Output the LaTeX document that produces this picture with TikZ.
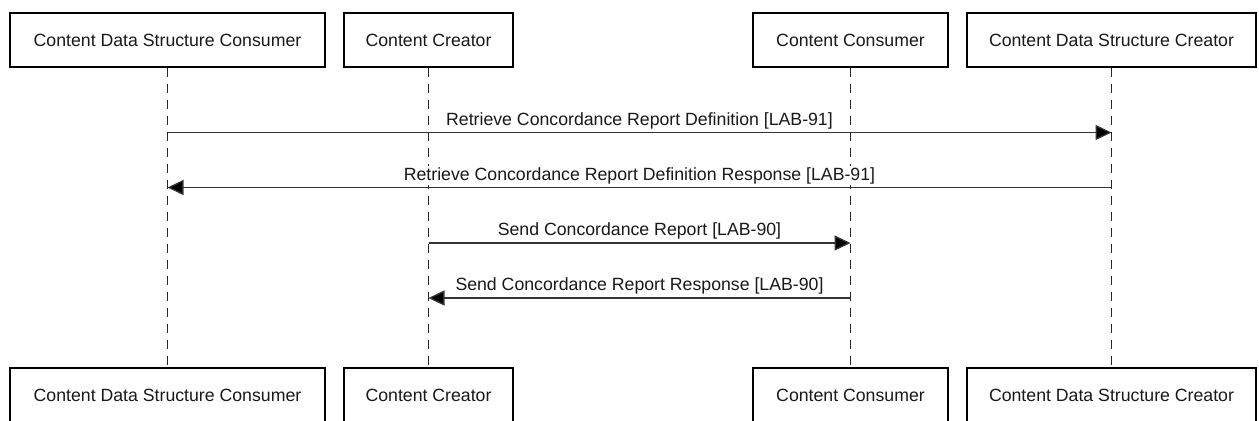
\documentclass[tikz,border=0pt]{standalone}
\usepackage{fontspec}
\setmainfont{Liberation Sans}
\usetikzlibrary{arrows.meta}
\begin{document}
\begin{tikzpicture}[x=0.5pt,y=-0.5pt,
  font=\fontsize{8.85pt}{10pt}\selectfont,
  actor/.style={draw=black, line width=1.4pt, fill=white, minimum height=27pt,
    inner sep=0pt, text=black!90},
  lifeline/.style={draw=black!85, line width=0.55pt, dash pattern=on 4.5pt off 3.5pt},
  msg/.style={draw=black!80, line width=0.65pt,
    -{Triangle[length=8pt,width=7.5pt,fill=black]}},
  lbl/.style={anchor=base, yshift=3.75pt, inner sep=0.5pt, fill=white, text=black!90}]
\useasboundingbox (0,0) rectangle (1259,420);

% participants, top row
\node[actor, minimum width=157.5pt] (a)  at (167.5,40)  {Content Data Structure Consumer};
\node[actor, minimum width=84.5pt]  (b)  at (428.5,40)  {Content Creator};
\node[actor, minimum width=97.5pt]  (c)  at (850.5,40)  {Content Consumer};
\node[actor, minimum width=144.5pt] (d)  at (1111.5,40) {Content Data Structure Creator};

% participants, bottom row
\node[actor, minimum width=157.5pt] (a2) at (167.5,395)  {Content Data Structure Consumer};
\node[actor, minimum width=84.5pt]  (b2) at (428.5,395)  {Content Creator};
\node[actor, minimum width=97.5pt]  (c2) at (850.5,395)  {Content Consumer};
\node[actor, minimum width=144.5pt] (d2) at (1111.5,395) {Content Data Structure Creator};

% lifelines
\draw[lifeline] (a.south) -- (a2.north);
\draw[lifeline] (b.south) -- (b2.north);
\draw[lifeline] (c.south) -- (c2.north);
\draw[lifeline] (d.south) -- (d2.north);

% message rows
\coordinate (r1) at (0,132.5);
\coordinate (r2) at (0,187.5);
\coordinate (r3) at (0,243);
\coordinate (r4) at (0,298);

\draw[msg] (a |- r1) -- node[lbl] {Retrieve Concordance Report Definition [LAB-91]} (d |- r1);
\draw[msg] (d |- r2) -- node[lbl] {Retrieve Concordance Report Definition Response [LAB-91]} (a |- r2);
\draw[msg] (b |- r3) -- node[lbl] {Send Concordance Report [LAB-90]} (c |- r3);
\draw[msg] (c |- r4) -- node[lbl] {Send Concordance Report Response [LAB-90]} (b |- r4);
\end{tikzpicture}
\end{document}
